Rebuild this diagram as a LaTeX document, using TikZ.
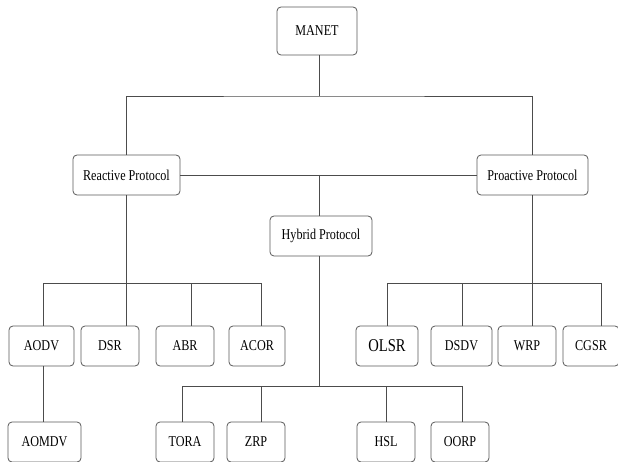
\documentclass[tikz,border=0pt]{standalone}
\usepackage{fontspec}
\setmainfont{Liberation Serif}[FakeStretch=0.81]
\begin{document}
\begin{tikzpicture}[x=1pt,y=-1pt,
  box/.style={draw=black!65, line width=0.8pt, rounded corners=4pt, fill=white,
    inner sep=0pt, minimum height=40pt, font=\fontsize{15}{18}\selectfont, text=black},
  link/.style={draw=black!70, line width=0.8pt}]
\fill[white] (0,0) rectangle (618,462);
\useasboundingbox (0,0) rectangle (618,462);
\clip (0,0) rectangle (618,462);
% nodes
\node[box, minimum width=80pt, minimum height=48pt] (manet) at (317,31) {MANET};
\node[box, minimum width=107pt] (reactive) at (126.5,175) {Reactive Protocol};
\node[box, minimum width=111pt] (proactive) at (532.5,175) {Proactive Protocol};
\node[box, minimum width=102pt] (hybrid) at (321,236) {Hybrid Protocol};
\node[box, minimum width=65pt] (aodv) at (41.5,346) {AODV};
\node[box, minimum width=58pt] (dsr) at (110,346) {DSR};
\node[box, minimum width=58pt] (abr) at (185,346) {ABR};
\node[box, minimum width=56pt] (acor) at (257,346) {ACOR};
\node[box, minimum width=62pt, font=\fontsize{18}{21}\selectfont] (olsr) at (387,346) {OLSR};
\node[box, minimum width=61pt] (dsdv) at (461.5,346) {DSDV};
\node[box, minimum width=58pt] (wrp) at (527,346) {WRP};
\node[box, minimum width=56pt] (cgsr) at (591,346) {CGSR};
\node[box, minimum width=73pt] (aomdv) at (44.5,442) {AOMDV};
\node[box, minimum width=58pt] (tora) at (185,442) {TORA};
\node[box, minimum width=58pt] (zrp) at (256,442) {ZRP};
\node[box, minimum width=58pt] (hsl) at (386,442) {HSL};
\node[box, minimum width=58pt] (oorp) at (460,442) {OORP};
% junctions
\coordinate (top) at (319,96);
\coordinate (mid) at (319,175);
\coordinate (rb) at (126.5,283);
\coordinate (pb) at (532.5,283);
\coordinate (hb) at (319,386);
% top level
\draw[link] ([xshift=2pt]manet.south) -- (top);
\draw[link] (reactive.north) |- (top) -| (proactive.north);
\draw[link] (reactive.east) -- (proactive.west);
\draw[link] (mid) -- ([xshift=-2pt]hybrid.north);
% reactive
\draw[link] (reactive.south) -- (rb);
\draw[link] ([xshift=1.5pt]aodv.north) |- (rb);
\draw[link] (reactive.south |- dsr.north) -- (rb);
\draw[link] ([xshift=6pt]abr.north) |- (rb);
\draw[link] ([xshift=4pt]acor.north) |- (rb);
\draw[link] ([xshift=1.5pt]aodv.south) -- ([xshift=-1.5pt]aomdv.north);
% proactive
\draw[link] (proactive.south) -- (pb);
\draw[link] (olsr.north) |- (pb);
\draw[link] ([xshift=0.5pt]dsdv.north) |- (pb);
\draw[link] (proactive.south |- wrp.north) -- (pb);
\draw[link] ([xshift=10pt]cgsr.north) |- (pb);
% hybrid
\draw[link] ([xshift=-2pt]hybrid.south) -- (hb);
\draw[link] ([xshift=-3pt]tora.north) |- (hb);
\draw[link] ([xshift=5pt]zrp.north) |- (hb);
\draw[link] (hsl.north) |- (hb);
\draw[link] ([xshift=2pt]oorp.north) |- (hb);
\end{tikzpicture}
\end{document}
